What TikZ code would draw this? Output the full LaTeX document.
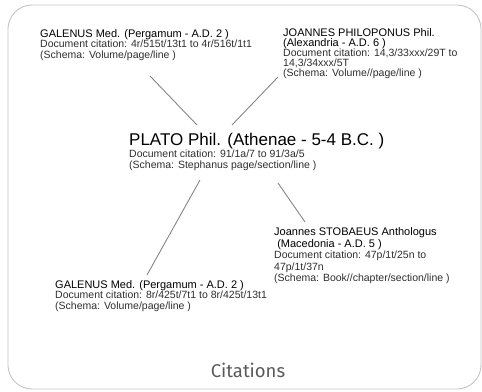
\documentclass[tikz,border=0pt]{standalone}
\usepackage{fontspec}
\setmainfont{Liberation Sans}
\newfontfamily\capfont{Fira Sans}
\definecolor{txt}{HTML}{2E2E2E}
\definecolor{linkc}{HTML}{858585}
\definecolor{framec}{HTML}{C4C4C4}
\newcommand{\hdA}[1]{{\fontsize{11}{10.6}\selectfont\color{black}#1}}
\begin{document}
\begin{tikzpicture}[x=1pt,y=-1pt,
  block/.style={anchor=base west, inner sep=0pt, align=left, text=txt,
                font=\fontsize{10.5}{10.3}\selectfont},
  link/.style={draw=linkc, line width=0.9pt},
  frame/.style={draw=framec, line width=0.9pt, rounded corners=24pt}]
\useasboundingbox (0,0) rectangle (482,391);
\draw[frame] (8,5) rectangle (481,389);

\node[block] (galA) at (40,58) {\hdA{GALENUS Med. (Pergamum - A.D. 2 )}\\Document citation: 4r/515t/13t1 to 4r/516t/1t1\\(Schema: Volume/page/line )};

\node[block, font=\fontsize{10.5}{10}\selectfont] (philo) at (283,76) {\hdA{JOANNES PHILOPONUS Phil.}\\\hdA{(Alexandria - A.D. 6 )}\\Document citation: 14,3/33xxx/29T to\\14,3/34xxx/5T\\(Schema: Volume//page/line )};

\node[block, font=\fontsize{10.5}{10.6}\selectfont] (plato) at (129,168.3) {{\fontsize{17}{17}\selectfont\color{black}PLATO Phil. (Athenae - 5-4 B.C. )}\\Document citation: 91/1a/7 to 91/3a/5\\(Schema: Stephanus page/section/line )};

\node[block, font=\fontsize{10.5}{11.5}\selectfont] (stob) at (274,281.5) {\hdA{Joannes STOBAEUS Anthologus}\\\hdA{\ (Macedonia - A.D. 5 )}\\Document citation: 47p/1t/25n to\\47p/1t/37n\\(Schema: Book//chapter/section/line )};

\node[block, font=\fontsize{10.5}{10.6}\selectfont] (galB) at (55,309.5) {\hdA{GALENUS Med. (Pergamum - A.D. 2 )}\\Document citation: 8r/425t/7t1 to 8r/425t/13t1\\(Schema: Volume/page/line )};

\node[anchor=base, inner sep=0pt, text=gray!70!black, font=\capfont\fontsize{18.5}{18.5}\selectfont] (title) at (248,377) {Citations};

\coordinate (galA-end) at (150,76);
\coordinate (plato-nw) at (197,125);
\coordinate (philo-end) at (278,77);
\coordinate (plato-ne) at (232,125);
\coordinate (plato-sw) at (200,180);
\coordinate (galB-end) at (147,275);
\coordinate (plato-se) at (278,183);
\coordinate (stob-end) at (305,222);

\draw[link] (galA-end) -- (plato-nw);
\draw[link] (philo-end) -- (plato-ne);
\draw[link] (plato-sw) -- (galB-end);
\draw[link] (plato-se) -- (stob-end);
\end{tikzpicture}
\end{document}
